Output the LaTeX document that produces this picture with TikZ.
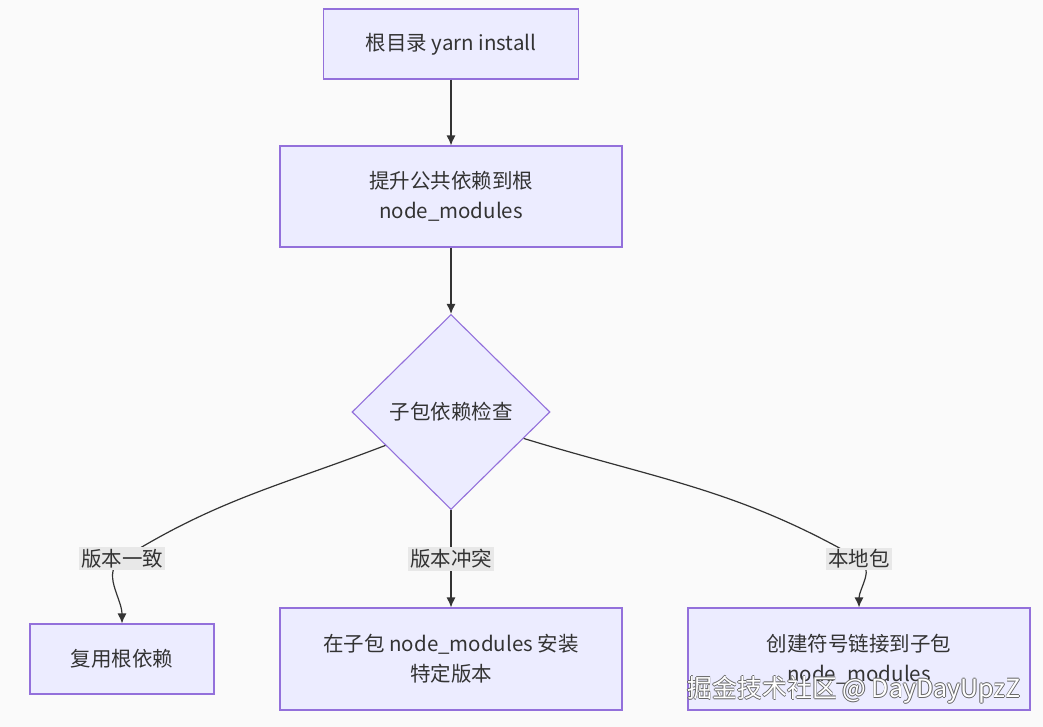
\documentclass[tikz,border=0pt]{standalone}
\usepackage{fontspec}
\setmainfont{Noto Sans CJK SC}
\usepackage{tikz}
\usetikzlibrary{arrows.meta}
\usetikzlibrary{shapes.geometric}
\usetikzlibrary{positioning}
\definecolor{nodefill}{HTML}{ECECFF}
\definecolor{nodeline}{HTML}{9370DB}
\definecolor{edgeline}{HTML}{333333}
\definecolor{labelfill}{HTML}{E8E8E8}
\definecolor{pagefill}{HTML}{FAFAFA}
\tikzset{
  % arrow tip like the flowchart renderer
  >={Latex[length=10pt,width=9pt]},
  line/.style={draw=edgeline, line width=1.2pt, ->},
  box/.style={draw=nodeline, fill=nodefill, line width=1.1pt, rectangle, text=edgeline,
    align=center, font=\fontsize{20.5}{30}\selectfont, inner sep=0pt},
  check/.style={draw=nodeline, fill=nodefill, line width=1.1pt, diamond, aspect=1,
    text=edgeline, font=\fontsize{20.5}{30}\selectfont, inner sep=0pt,
    minimum width=198pt, minimum height=195pt},
  edgelabel/.style={fill=labelfill, text=edgeline, inner sep=2pt,
    font=\fontsize{20.5}{24}\selectfont},
  watermark/.style={font=\fontsize{25}{25}\selectfont}
}

\begin{document}
\begin{tikzpicture}[x=1pt, y=1pt, node distance=150pt]
    % Page
    \fill[pagefill] (0,0) rectangle (1043,727);
    \useasboundingbox (0,0) rectangle (1043,727);

    % Place nodes
    \node [box, minimum width=255pt, minimum height=70pt] (install) at (451,683) {根目录 yarn install};
    \node [box, minimum width=342pt, minimum height=101pt, below of=install, node distance=152.5pt] (hoist) {提升公共依赖到根\\node\_modules};
    \node [check, below of=hoist, node distance=215.5pt] (subcheck) {子包依赖检查};
    \node [box, minimum width=342pt, minimum height=102pt, below of=subcheck, node distance=247pt] (conflict) {在子包 node\_modules 安装\\特定版本};
    \node [box, minimum width=184pt, minimum height=70pt, left of=conflict, node distance=329pt] (reuse) {复用根依赖};
    \node [box, minimum width=342pt, minimum height=102pt, right of=conflict, node distance=408pt] (symlink) {创建符号链接到子包\\node\_modules};

    % Label spots
    \coordinate (same) at (122,168);
    \coordinate (clash) at (451,168);
    \coordinate (local) at (859,168);

    % Draw edges
    \path [line] (install) -- (hoist);
    \path [line] (hoist) -- (subcheck);
    \path [line] (subcheck.207) to[out=201, in=32] (same) to[out=212, in=90] (reuse.north);
    \path [line] (subcheck) -- (conflict);
    \path [line] (subcheck.-20) to[out=-17, in=150] (local) to[out=-30, in=90] (symlink.north);

    % Edge labels
    \node [edgelabel] at (same) {版本一致};
    \node [edgelabel] at (clash) {版本冲突};
    \node [edgelabel] at (local) {本地包};

    % Watermark
    \coordinate (wm) at (854,37);
    \foreach \dx/\dy in {-0.8/0, 0.8/0, 0/-0.8, 0/0.8}
        \node [watermark, text=gray!80!black] at ([shift={(\dx,\dy)}]wm) {掘金技术社区 @ DayDayUpzZ};
    \node [watermark, text=white] at (wm) {掘金技术社区 @ DayDayUpzZ};

\end{tikzpicture}
\end{document}
